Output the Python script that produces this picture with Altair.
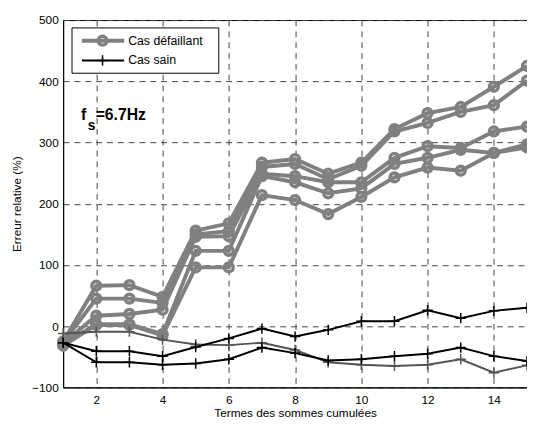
import altair as alt
import pandas as pd

x_terms = list(range(1, 16))

# Cas défaillant (5 series)
def1 = [-25, 66, 67, 48, 156, 168, 267, 273, 249, 267, 322, 348, 358, 391, 425]
def2 = [-27, 45, 45, 38, 150, 155, 260, 265, 240, 262, 318, 332, 350, 361, 401]
def3 = [-28, 17, 20, 27, 146, 147, 249, 245, 235, 235, 275, 294, 291, 318, 326]
def4 = [-30, 3, 3, -13, 123, 123, 245, 235, 217, 225, 265, 275, 288, 283, 297]
def5 = [-32, 2, 2, -15, 96, 96, 214, 206, 183, 211, 243, 259, 254, 283, 292]

# Cas sain (3 series)
sain1 = [-27, -41, -41, -49, -34, -20, -4, -17, -6, 8, 8, 26, 13, 25, 30]
sain2 = [-27, -59, -59, -63, -61, -54, -35, -44, -56, -54, -49, -45, -35, -49, -57]
sain3 = [-12, -9, -9, -22, -30, -31, -27, -39, -59, -63, -65, -63, -54, -76, -64]

y_ticks = [-100, 0, 100, 200, 300, 400, 500]
x_ticks = [2, 4, 6, 8, 10, 12, 14]

rows = []
for name, vals in [("d1", def1), ("d2", def2), ("d3", def3), ("d4", def4), ("d5", def5)]:
    for xv, yv in zip(x_terms, vals):
        rows.append({"x": xv, "y": yv, "s": name})
df_def = pd.DataFrame(rows)

rows = []
for name, vals in [("s3", sain3), ("s2", sain2), ("s1", sain1)]:
    for xv, yv in zip(x_terms, vals):
        rows.append({"x": xv, "y": yv, "s": name})
df_sain = pd.DataFrame(rows)

xs = alt.Scale(domain=[1, 15], nice=False, zero=False)
ys = alt.Scale(domain=[-100, 500], nice=False, zero=False)

X = alt.X("x:Q", scale=xs,
          axis=alt.Axis(values=x_ticks, title="Termes des sommes cumulées", grid=True,
                        gridDash=[6, 5], gridColor="#444", gridWidth=1, tickSize=0,
                        labelPadding=7, titlePadding=3))
Y = alt.Y("y:Q", scale=ys,
          axis=alt.Axis(values=y_ticks, title="Erreur relative (%)", grid=True,
                        gridDash=[6, 5], gridColor="#444", gridWidth=1, tickSize=0,
                        labelPadding=5, titlePadding=8))

base_def = alt.Chart(df_def)
def_lines = base_def.mark_line(color="#808080", strokeWidth=4).encode(x=X, y=Y, detail="s:N")
def_pts = base_def.mark_point(shape="circle", filled=False, color="#808080",
                              strokeWidth=3.5, size=80, opacity=1).encode(x="x:Q", y="y:Q")

sain_colors = alt.Scale(domain=["s1", "s2", "s3"], range=["#000000", "#000000", "#555555"])
base_sain = alt.Chart(df_sain)
sain_lines = base_sain.mark_line(strokeWidth=2).encode(
    x="x:Q", y="y:Q", detail="s:N",
    color=alt.Color("s:N", scale=sain_colors, legend=None))
plus = "M-1,0L1,0M0,-1L0,1"
sain_pts = base_sain.mark_point(shape=plus, filled=False, strokeWidth=1.5, size=110, opacity=1).encode(
    x="x:Q", y="y:Q", color=alt.Color("s:N", scale=sain_colors, legend=None))

# legend (manual)
one = pd.DataFrame({"k": [0]})
leg_box = alt.Chart(one).mark_rect(fill="white", stroke="black", strokeWidth=1).encode(
    x=alt.value(9), x2=alt.value(158), y=alt.value(8), y2=alt.value(54))
leg_l1 = alt.Chart(one).mark_rule(color="#808080", strokeWidth=4).encode(
    x=alt.value(19), x2=alt.value(62), y=alt.value(21))
leg_p1 = alt.Chart(one).mark_point(shape="circle", filled=False, color="#808080",
                                   strokeWidth=3.5, size=80, opacity=1).encode(
    x=alt.value(40), y=alt.value(21))
leg_t1 = alt.Chart(one).mark_text(text="Cas défaillant", align="left", baseline="middle",
                                  font="Liberation Sans", fontSize=12.5, color="black").encode(
    x=alt.value(66), y=alt.value(21))
leg_l2 = alt.Chart(one).mark_rule(color="black", strokeWidth=2).encode(
    x=alt.value(19), x2=alt.value(62), y=alt.value(41))
leg_p2 = alt.Chart(one).mark_point(shape=plus, filled=False, color="black",
                                   strokeWidth=1.5, size=110, opacity=1).encode(
    x=alt.value(40), y=alt.value(41))
leg_t2 = alt.Chart(one).mark_text(text="Cas sain", align="left", baseline="middle",
                                  font="Liberation Sans", fontSize=12.5, color="black").encode(
    x=alt.value(66), y=alt.value(41))

# annotation f_s = 6.7Hz
ann_f = alt.Chart(one).mark_text(text="f", align="left", baseline="alphabetic",
                                 font="Liberation Sans", fontSize=16, fontWeight="bold").encode(
    x=alt.value(18), y=alt.value(101))
ann_s = alt.Chart(one).mark_text(text="s", align="left", baseline="alphabetic",
                                 font="Liberation Sans", fontSize=14, fontWeight="bold").encode(
    x=alt.value(25), y=alt.value(112))
ann_v = alt.Chart(one).mark_text(text="=6.7Hz", align="left", baseline="alphabetic",
                                 font="Liberation Sans", fontSize=16, fontWeight="bold").encode(
    x=alt.value(33), y=alt.value(101))

chart = alt.layer(
    def_lines, def_pts, sain_lines, sain_pts,
    leg_box, leg_l1, leg_p1, leg_t1, leg_l2, leg_p2, leg_t2,
    ann_f, ann_s, ann_v
).properties(
    width=471, height=373,
    autosize=alt.AutoSizeParams(type="none"),
    padding={"left": 56, "top": 9, "right": 0, "bottom": 37},
    background="white"
).configure_view(
    stroke="black", strokeWidth=1
).configure_axis(
    domainColor="black", labelColor="black", titleColor="black",
    labelFont="Liberation Sans", titleFont="Liberation Sans",
    labelFontSize=12, titleFontSize=12, titleFontWeight="normal"
)

chart.save("out.html", embed_options={"renderer": "svg", "actions": False})
